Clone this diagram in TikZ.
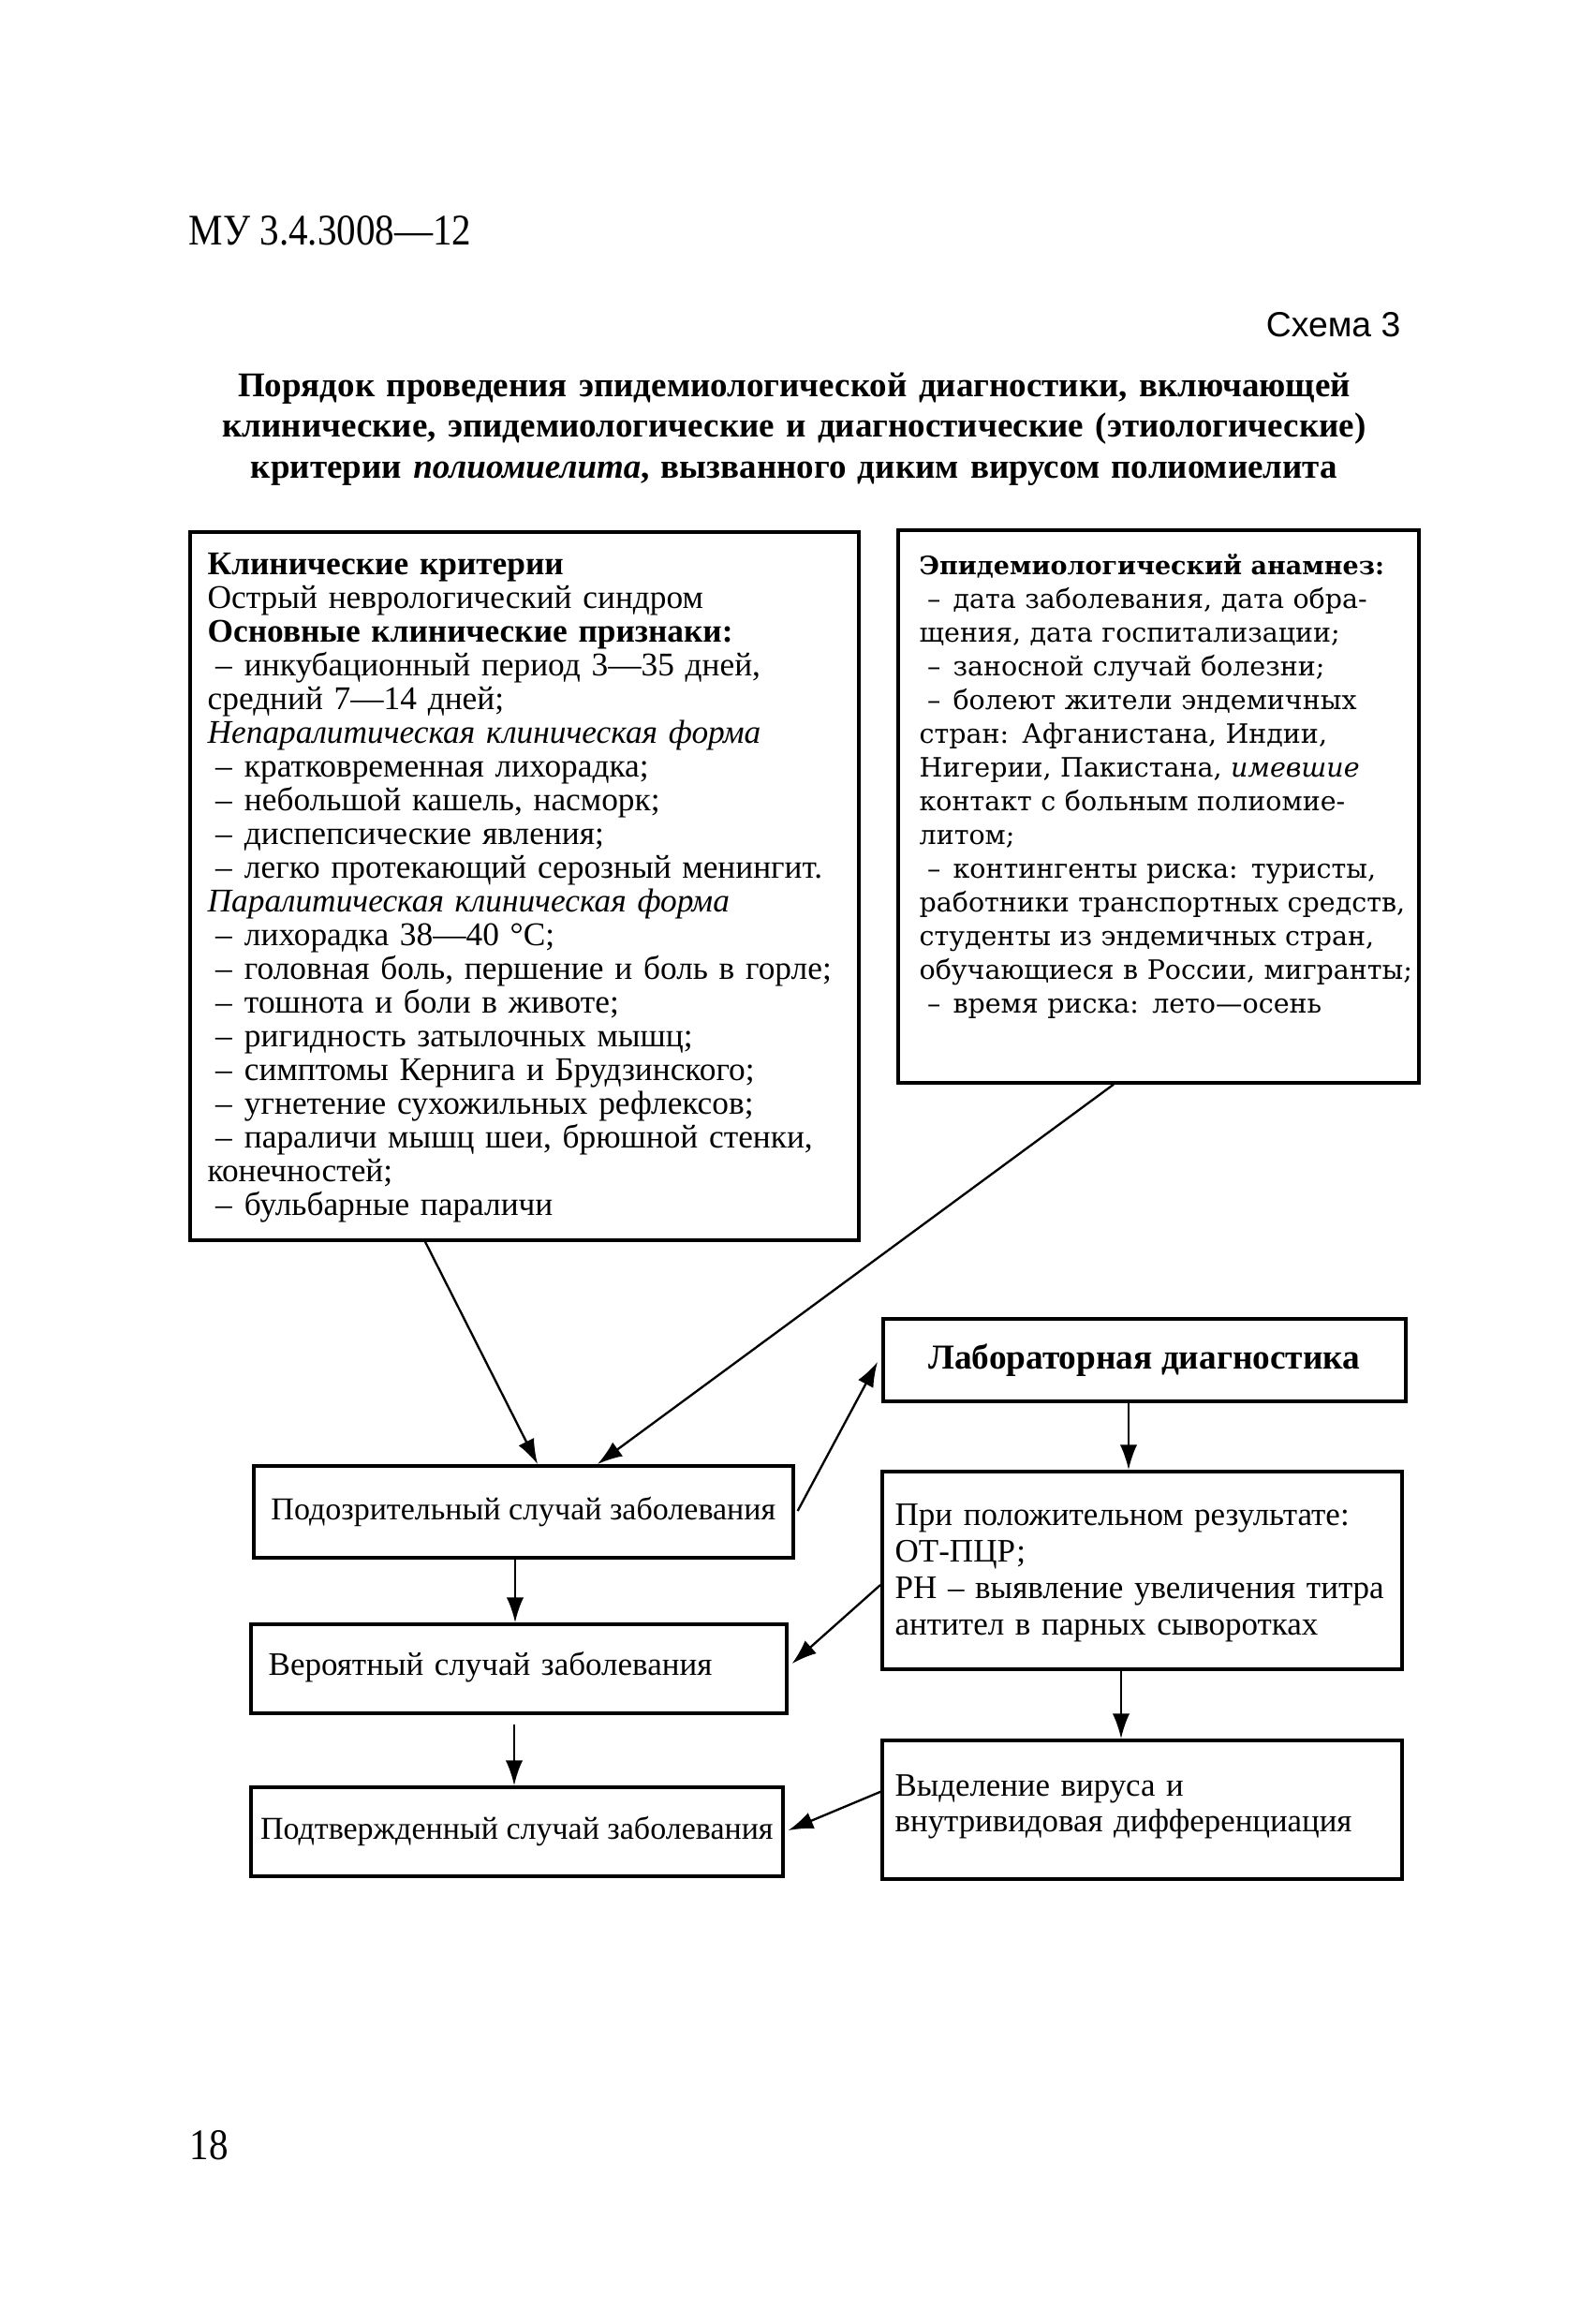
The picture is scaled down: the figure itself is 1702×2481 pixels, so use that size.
\documentclass[tikz,border=0pt]{standalone}
\usepackage{fontspec}
\setmainfont{Liberation Serif}
\newfontfamily\epifont{DejaVu Serif}
\newfontfamily\sansfnt{Liberation Sans}
\newfontfamily\condfnt[FakeStretch=0.88]{Liberation Serif}
\usetikzlibrary{arrows.meta,calc}
\newcommand\itm{\hspace*{2.5pt}–\hspace{4pt}}
\begin{document}
\begin{tikzpicture}[x=0.3pt,y=-0.3pt,
  box/.style={draw,line width=1.1pt,inner sep=0pt,anchor=north west,align=center},
  txt/.style={inner sep=0pt,anchor=base west,align=left,text width=#1},
  txt/.default=220pt,
  arr/.style={line width=0.7pt,-{Latex[length=8pt,width=5.5pt]}}
]
\useasboundingbox[fill=white] (0,0) rectangle (1702,2481);

% header texts
\node[inner sep=0pt,anchor=base west,font=\condfnt\fontsize{14}{16}\selectfont] (hdr) at (201,261) {МУ 3.4.3008—12};
\node[inner sep=0pt,anchor=base east,font=\sansfnt\fontsize{11.2}{13}\selectfont] (schema) at (1496,359) {Схема 3};
\node[inner sep=0pt,anchor=base,align=center,text width=420pt,font=\bfseries\fontsize{11.1}{13.05}\selectfont] (title) at (848,423)
  {Порядок проведения эпидемиологической диагностики, включающей\\
   клинические, эпидемиологические и диагностические (этиологические)\\
   критерии \textit{полиомиелита}, вызванного диким вирусом полиомиелита};
\node[inner sep=0pt,anchor=base west,font=\condfnt\fontsize{14}{16}\selectfont] (pg) at (202,2305) {18};

% boxes
\node[box,minimum width=214.2pt,minimum height=226.8pt] (clin) at (201,566) {};
\node[box,minimum width=166.8pt,minimum height=177pt] (epi) at (957,564) {};
\node[box,minimum width=167.4pt,minimum height=26.4pt,font=\bfseries\fontsize{11.2}{13}\selectfont] (lab) at (941,1406) {Лабораторная диагностика};
\node[box,minimum width=172.8pt,minimum height=29.4pt,font=\fontsize{10.2}{12}\selectfont] (susp) at (269,1563) {Подозрительный случай заболевания};
\node[box,minimum width=166.5pt,minimum height=63.3pt] (result) at (940,1569) {};
\node[box,minimum width=171.6pt,minimum height=28.5pt] (ver) at (266,1732) {};
\node[box,minimum width=170.4pt,minimum height=28.5pt,font=\fontsize{10.2}{12}\selectfont] (conf) at (266,1906) {Подтвержденный случай заболевания};
\node[box,minimum width=166.5pt,minimum height=44.4pt] (isol) at (940,1856) {};

% texts inside boxes
\node[txt=210pt,font=\fontsize{10.6}{10.8}\selectfont] (clintxt) at ($(clin.north west)+(20,47)$)
{\textbf{Клинические критерии}\\
Острый неврологический синдром\\
\textbf{Основные клинические признаки:}\\
\itm инкубационный период 3—35 дней,\\
средний 7—14 дней;\\
\textit{Непаралитическая клиническая форма}\\
\itm кратковременная лихорадка;\\
\itm небольшой кашель, насморк;\\
\itm диспепсические явления;\\
\itm легко протекающий серозный менингит.\\
\textit{Паралитическая клиническая форма}\\
\itm лихорадка 38—40 °С;\\
\itm головная боль, першение и боль в горле;\\
\itm тошнота и боли в животе;\\
\itm ригидность затылочных мышц;\\
\itm симптомы Кернига и Брудзинского;\\
\itm угнетение сухожильных рефлексов;\\
\itm параличи мышц шеи, брюшной стенки,\\
конечностей;\\
\itm бульбарные параличи};

\node[txt=165pt,font=\epifont\fontsize{8.55}{10.8}\selectfont] (epitxt) at ($(epi.north west)+(24,49)$)
{{\bfseries\fontsize{8.1}{10.8}\selectfont Эпидемиологический анамнез:}\\
\itm дата заболевания, дата обра-\\
щения, дата госпитализации;\\
\itm заносной случай болезни;\\
\itm болеют жители эндемичных\\
стран: Афганистана, Индии,\\
Нигерии, Пакистана, \textit{имевшие}\\
контакт с больным полиомие-\\
литом;\\
\itm контингенты риска: туристы,\\
работники транспортных средств,\\
студенты из эндемичных стран,\\
обучающиеся в России, мигранты;\\
\itm время риска: лето—осень};

\node[txt=165pt,font=\fontsize{10.5}{11.7}\selectfont] (restxt) at ($(result.north west)+(15,59)$)
{При положительном результате:\\
ОТ-ПЦР;\\
РН – выявление увеличения титра\\
антител в парных сыворотках};

\node[txt=165pt,font=\fontsize{10.45}{11.5}\selectfont] (isotxt) at ($(isol.north west)+(15,61)$)
{Выделение вируса и\\
внутривидовая дифференциация};

\node[txt=165pt,font=\fontsize{10.5}{12}\selectfont] (vertxt) at ($(ver.north west)+(20,56)$)
{Вероятный случай заболевания};

% connectors
\draw[arr] ($(clin.south west)+(253,0)$) -- ($(susp.north west)+(305,0)$);
\draw[arr] ($(epi.south west)+(232,0)$) -- ($(susp.north west)+(369,0)$);
\draw[arr] ($(susp.north east)+(3,50)$) -- ($(lab.west)+(-4,2)$);
\draw[arr] ($(lab.south west)+(264,0)$) -- ($(result.north west)+(265,0)$);
\draw[arr] ($(susp.south west)+(281,0)$) -- ($(ver.north west)+(284,0)$);
\draw[arr] ($(result.north west)+(0,123)$) -- ($(ver.north east)+(4,44)$);
\draw[arr] ($(ver.south west)+(283,10)$) -- ($(conf.north west)+(283,0)$);
\draw[arr] ($(result.south west)+(257,0)$) -- ($(isol.north west)+(257,0)$);
\draw[arr] ($(isol.north west)+(2,56)$) -- ($(conf.north east)+(4,48)$);
\end{tikzpicture}
\end{document}
